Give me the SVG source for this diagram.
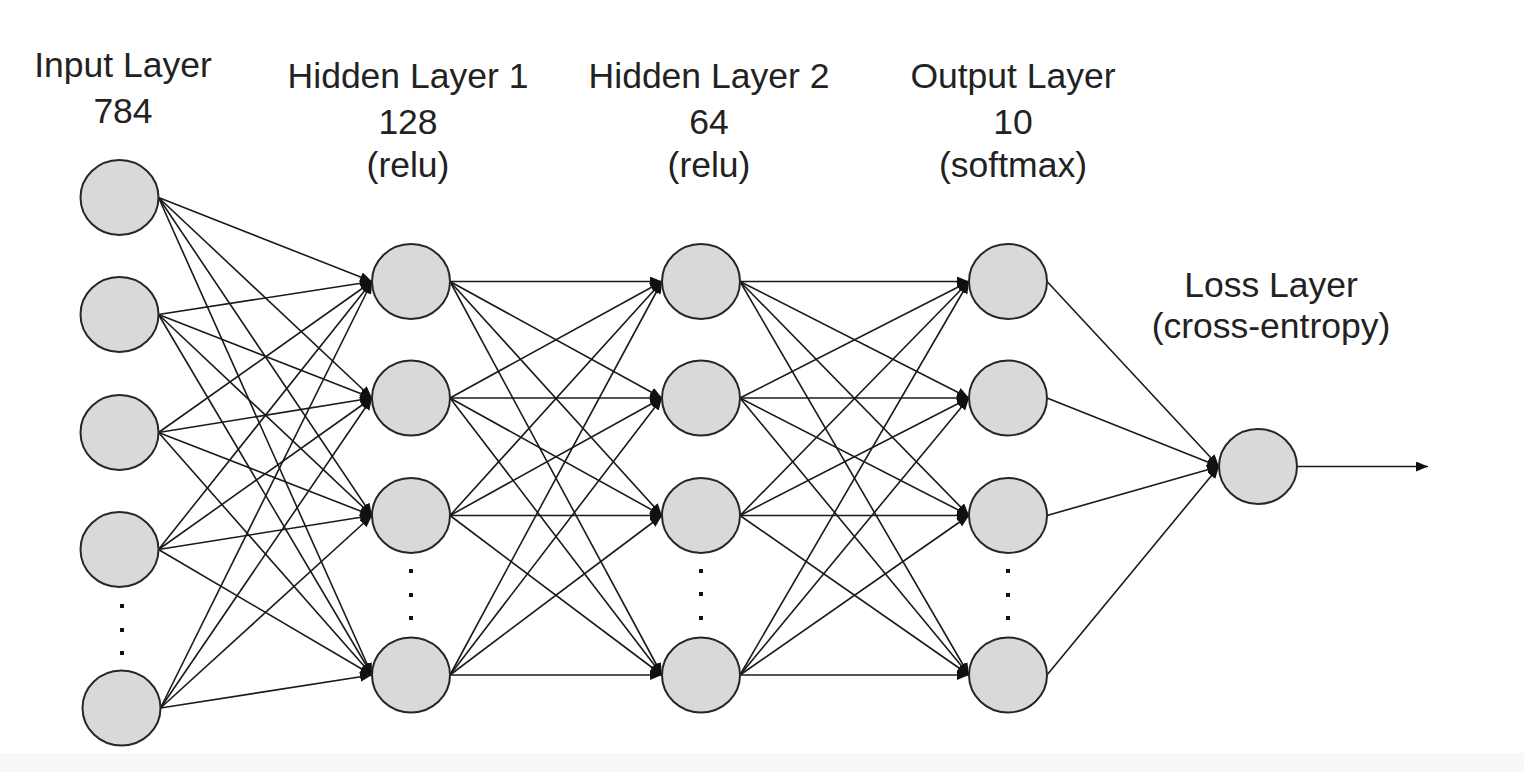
<svg xmlns="http://www.w3.org/2000/svg" width="1524" height="772" viewBox="0 0 1524 772">
<style>
.n{fill:#d9d9d9;stroke:#262626;stroke-width:2}
.e{stroke:#1a1a1a;stroke-width:1.6;fill:none;marker-end:url(#ah)}
.t{font-family:"Liberation Sans",Arial,sans-serif;font-size:35.5px;fill:#222;text-anchor:middle}
.d{fill:#111}
</style>
<defs>
<marker id="ah" markerUnits="userSpaceOnUse" markerWidth="14" markerHeight="12" refX="12" refY="5" orient="auto">
<path d="M0,0 L12,5 L0,10 Z" fill="#111"/>
</marker>
</defs>
<rect x="0" y="0" width="1524" height="772" fill="#fff"/>
<rect x="0" y="753" width="1524" height="19" fill="#f8f8f8"/>
<g id="labels">
<text class="t" x="123" y="77">Input Layer</text>
<text class="t" x="123" y="123">784</text>
<text class="t" x="408" y="88">Hidden Layer 1</text>
<text class="t" x="408" y="134">128</text>
<text class="t" x="408" y="177">(relu)</text>
<text class="t" x="709" y="88">Hidden Layer 2</text>
<text class="t" x="709" y="134">64</text>
<text class="t" x="709" y="177">(relu)</text>
<text class="t" x="1013" y="88">Output Layer</text>
<text class="t" x="1013" y="134">10</text>
<text class="t" x="1013" y="177">(softmax)</text>
<text class="t" x="1271" y="297">Loss Layer</text>
<text class="t" x="1271" y="338">(cross-entropy)</text>
</g>
<g id="connectors">
<!-- input -> hidden1 -->
<line class="e" x1="158.5" y1="197.5" x2="372" y2="281.5"/>
<line class="e" x1="158.5" y1="197.5" x2="372" y2="398"/>
<line class="e" x1="158.5" y1="197.5" x2="372" y2="515.5"/>
<line class="e" x1="158.5" y1="197.5" x2="372" y2="675"/>
<line class="e" x1="158.5" y1="314.5" x2="372" y2="281.5"/>
<line class="e" x1="158.5" y1="314.5" x2="372" y2="398"/>
<line class="e" x1="158.5" y1="314.5" x2="372" y2="515.5"/>
<line class="e" x1="158.5" y1="314.5" x2="372" y2="675"/>
<line class="e" x1="158.5" y1="432.5" x2="372" y2="281.5"/>
<line class="e" x1="158.5" y1="432.5" x2="372" y2="398"/>
<line class="e" x1="158.5" y1="432.5" x2="372" y2="515.5"/>
<line class="e" x1="158.5" y1="432.5" x2="372" y2="675"/>
<line class="e" x1="158.5" y1="549.5" x2="372" y2="281.5"/>
<line class="e" x1="158.5" y1="549.5" x2="372" y2="398"/>
<line class="e" x1="158.5" y1="549.5" x2="372" y2="515.5"/>
<line class="e" x1="158.5" y1="549.5" x2="372" y2="675"/>
<line class="e" x1="160.5" y1="708" x2="372" y2="281.5"/>
<line class="e" x1="160.5" y1="708" x2="372" y2="398"/>
<line class="e" x1="160.5" y1="708" x2="372" y2="515.5"/>
<line class="e" x1="160.5" y1="708" x2="372" y2="675"/>
<!-- hidden1 -> hidden2 -->
<line class="e" x1="450" y1="281.5" x2="662" y2="281.5"/>
<line class="e" x1="450" y1="281.5" x2="662" y2="398"/>
<line class="e" x1="450" y1="281.5" x2="662" y2="515.5"/>
<line class="e" x1="450" y1="281.5" x2="662" y2="675"/>
<line class="e" x1="450" y1="398" x2="662" y2="281.5"/>
<line class="e" x1="450" y1="398" x2="662" y2="398"/>
<line class="e" x1="450" y1="398" x2="662" y2="515.5"/>
<line class="e" x1="450" y1="398" x2="662" y2="675"/>
<line class="e" x1="450" y1="515.5" x2="662" y2="281.5"/>
<line class="e" x1="450" y1="515.5" x2="662" y2="398"/>
<line class="e" x1="450" y1="515.5" x2="662" y2="515.5"/>
<line class="e" x1="450" y1="515.5" x2="662" y2="675"/>
<line class="e" x1="450" y1="675" x2="662" y2="281.5"/>
<line class="e" x1="450" y1="675" x2="662" y2="398"/>
<line class="e" x1="450" y1="675" x2="662" y2="515.5"/>
<line class="e" x1="450" y1="675" x2="662" y2="675"/>
<!-- hidden2 -> output -->
<line class="e" x1="740" y1="281.5" x2="969" y2="281.5"/>
<line class="e" x1="740" y1="281.5" x2="969" y2="398"/>
<line class="e" x1="740" y1="281.5" x2="969" y2="515.5"/>
<line class="e" x1="740" y1="281.5" x2="969" y2="675"/>
<line class="e" x1="740" y1="398" x2="969" y2="281.5"/>
<line class="e" x1="740" y1="398" x2="969" y2="398"/>
<line class="e" x1="740" y1="398" x2="969" y2="515.5"/>
<line class="e" x1="740" y1="398" x2="969" y2="675"/>
<line class="e" x1="740" y1="515.5" x2="969" y2="281.5"/>
<line class="e" x1="740" y1="515.5" x2="969" y2="398"/>
<line class="e" x1="740" y1="515.5" x2="969" y2="515.5"/>
<line class="e" x1="740" y1="515.5" x2="969" y2="675"/>
<line class="e" x1="740" y1="675" x2="969" y2="281.5"/>
<line class="e" x1="740" y1="675" x2="969" y2="398"/>
<line class="e" x1="740" y1="675" x2="969" y2="515.5"/>
<line class="e" x1="740" y1="675" x2="969" y2="675"/>
<!-- output -> loss -->
<line class="e" x1="1047" y1="281.5" x2="1219" y2="466.5"/>
<line class="e" x1="1047" y1="398" x2="1219" y2="466.5"/>
<line class="e" x1="1047" y1="515.5" x2="1219" y2="466.5"/>
<line class="e" x1="1047" y1="675" x2="1219" y2="466.5"/>
<!-- loss -> out -->
<line class="e" x1="1297" y1="466.5" x2="1428" y2="466.5"/>
</g>
<g id="input-layer">
<g id="in1"><ellipse class="n" cx="119.5" cy="197.5" rx="39" ry="37.5"/></g>
<g id="in2"><ellipse class="n" cx="119.5" cy="314.5" rx="39" ry="37.5"/></g>
<g id="in3"><ellipse class="n" cx="119.5" cy="432.5" rx="39" ry="37.5"/></g>
<g id="in4"><ellipse class="n" cx="119.5" cy="549.5" rx="39" ry="37.5"/></g>
<g id="in-dots"><rect class="d" x="120" y="604" width="4" height="4"/><rect class="d" x="120" y="628" width="4" height="4"/><rect class="d" x="120" y="651" width="4" height="4"/></g>
<g id="in5"><ellipse class="n" cx="121.5" cy="708" rx="39" ry="37.5"/></g>
</g>
<g id="hidden1">
<g id="h1a"><ellipse class="n" cx="411" cy="281.5" rx="39" ry="37.5"/></g>
<g id="h1b"><ellipse class="n" cx="411" cy="398" rx="39" ry="37.5"/></g>
<g id="h1c"><ellipse class="n" cx="411" cy="515.5" rx="39" ry="37.5"/></g>
<g id="h1-dots"><rect class="d" x="409" y="569" width="4" height="4"/><rect class="d" x="409" y="593" width="4" height="4"/><rect class="d" x="409" y="616" width="4" height="4"/></g>
<g id="h1d"><ellipse class="n" cx="411" cy="675" rx="39" ry="37.5"/></g>
</g>
<g id="hidden2">
<g id="h2a"><ellipse class="n" cx="701" cy="281.5" rx="39" ry="37.5"/></g>
<g id="h2b"><ellipse class="n" cx="701" cy="398" rx="39" ry="37.5"/></g>
<g id="h2c"><ellipse class="n" cx="701" cy="515.5" rx="39" ry="37.5"/></g>
<g id="h2-dots"><rect class="d" x="699" y="569" width="4" height="4"/><rect class="d" x="699" y="592" width="4" height="4"/><rect class="d" x="699" y="616" width="4" height="4"/></g>
<g id="h2d"><ellipse class="n" cx="701" cy="675" rx="39" ry="37.5"/></g>
</g>
<g id="output-layer">
<g id="o1"><ellipse class="n" cx="1008" cy="281.5" rx="39" ry="37.5"/></g>
<g id="o2"><ellipse class="n" cx="1008" cy="398" rx="39" ry="37.5"/></g>
<g id="o3"><ellipse class="n" cx="1008" cy="515.5" rx="39" ry="37.5"/></g>
<g id="o-dots"><rect class="d" x="1006" y="569" width="4" height="4"/><rect class="d" x="1006" y="593" width="4" height="4"/><rect class="d" x="1006" y="616" width="4" height="4"/></g>
<g id="o4"><ellipse class="n" cx="1008" cy="675" rx="39" ry="37.5"/></g>
</g>
<g id="loss-layer">
<g id="loss"><ellipse class="n" cx="1258" cy="466.5" rx="39" ry="37.5"/></g>
</g>
</svg>
